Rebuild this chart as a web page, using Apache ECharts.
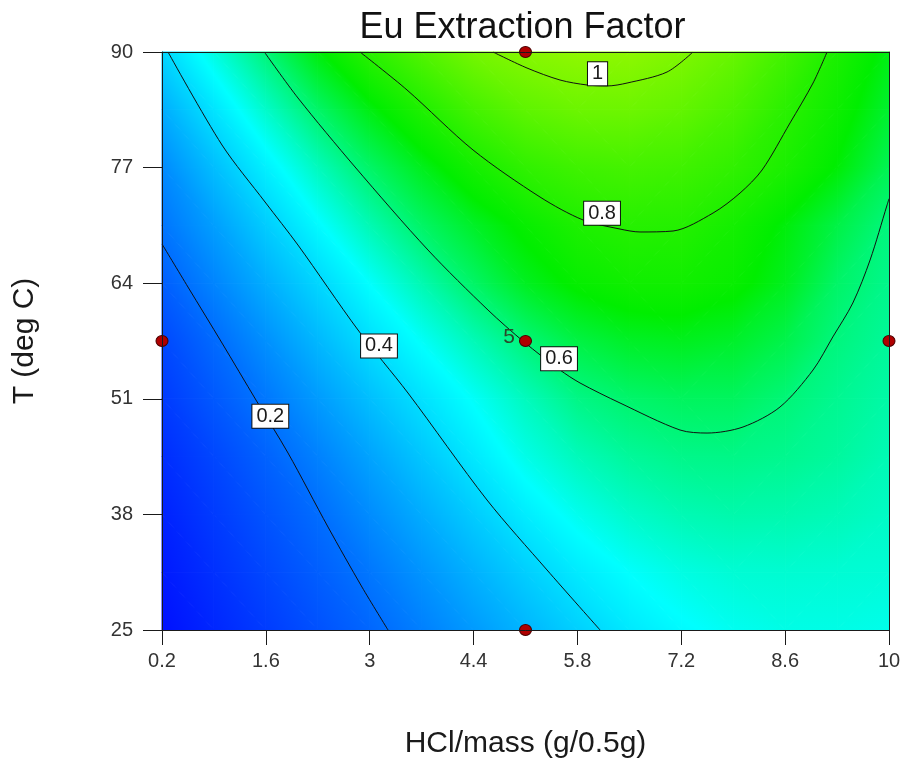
<!DOCTYPE html>
<html>
<head>
<meta charset="utf-8">
<title>Eu Extraction Factor</title>
<script src="https://cdn.jsdelivr.net/npm/echarts@6/dist/echarts.min.js"></script>
<style>
  html, body { margin: 0; padding: 0; background: #ffffff; }
  #chart { width: 901px; height: 761px; }
</style>
</head>
<body>
<div id="chart"></div>
<script>
// ---- Response surface grid: HCl/mass (g/0.5g) x temperature (deg C) ----
const hclNodes  = [0.2, 0.9, 1.6, 2.3, 3.0, 3.7, 4.4, 5.1, 5.8, 6.5, 7.2, 7.9, 8.6, 9.3, 10.0];
const tempNodes = [25, 31.5, 38, 44.5, 51, 57.5, 64, 70.5, 77, 83.5, 90];

// Eu extraction factor along each temperature row (one value per HCl node)
const euAt25   = [0.030, 0.069, 0.108, 0.147, 0.186, 0.232, 0.281, 0.330, 0.379, 0.424, 0.456, 0.478, 0.489, 0.489, 0.484];
const euAt31_5 = [0.045, 0.087, 0.129, 0.171, 0.216, 0.269, 0.323, 0.376, 0.427, 0.466, 0.492, 0.507, 0.510, 0.508, 0.505];
const euAt38   = [0.060, 0.106, 0.152, 0.197, 0.255, 0.313, 0.371, 0.431, 0.481, 0.517, 0.539, 0.548, 0.545, 0.536, 0.522];
const euAt44_5 = [0.080, 0.128, 0.178, 0.235, 0.297, 0.360, 0.423, 0.487, 0.533, 0.565, 0.582, 0.585, 0.577, 0.562, 0.538];
const euAt51   = [0.105, 0.160, 0.217, 0.282, 0.347, 0.410, 0.470, 0.530, 0.586, 0.613, 0.626, 0.626, 0.601, 0.575, 0.552];
const euAt57_5 = [0.130, 0.192, 0.262, 0.334, 0.405, 0.470, 0.536, 0.600, 0.652, 0.681, 0.690, 0.678, 0.645, 0.594, 0.566];
const euAt64   = [0.170, 0.241, 0.316, 0.390, 0.466, 0.542, 0.618, 0.687, 0.732, 0.756, 0.758, 0.737, 0.690, 0.617, 0.580];
const euAt70_5 = [0.213, 0.288, 0.372, 0.456, 0.540, 0.618, 0.680, 0.735, 0.785, 0.806, 0.801, 0.765, 0.710, 0.650, 0.594];
const euAt77   = [0.252, 0.345, 0.437, 0.530, 0.617, 0.691, 0.765, 0.828, 0.863, 0.875, 0.864, 0.830, 0.780, 0.715, 0.636];
const euAt83_5 = [0.315, 0.415, 0.517, 0.616, 0.702, 0.788, 0.874, 0.934, 0.965, 0.968, 0.943, 0.892, 0.815, 0.748, 0.672];
const euAt90   = [0.390, 0.495, 0.600, 0.709, 0.815, 0.905, 0.985, 1.025, 1.045, 1.040, 1.008, 0.955, 0.870, 0.780, 0.700];
const euRows = [euAt25, euAt31_5, euAt38, euAt44_5, euAt51, euAt57_5, euAt64, euAt70_5, euAt77, euAt83_5, euAt90];

// ---- Contour lines [HCl, T] ----
const contour02 = [[0.2, 68.41], [0.55, 63.57], [1.009, 57.27], [1.467, 50.86], [1.899, 44.90], [2.438, 36.58], [2.896, 29.83], [3.247, 25]];
const contour04 = [[0.281, 90], [1.009, 79.54], [1.589, 73.13], [2.033, 68.29], [2.842, 58.74], [3.516, 51.65], [4.581, 39.62], [5.390, 31.75], [6.105, 25]];
const contour06 = [[1.58, 90], [2.033, 84.83], [2.802, 77.07], [3.786, 67.73], [4.595, 60.98], [5.080, 57.39], [5.565, 54.24], [5.835, 52.78], [6.374, 50.53], [7.183, 47.49], [7.547, 47.15], [8.032, 47.83], [8.531, 50.08], [8.976, 54.24], [9.242, 57.95], [9.512, 61.77], [9.745, 66.61], [9.974, 72.79], [10, 73.5]];
const contour08 = [[2.869, 90], [3.503, 85.73], [4.393, 78.98], [5.296, 73.69], [5.876, 71.11], [6.374, 70.09], [6.644, 69.76], [7.089, 69.87], [7.628, 71.89], [7.992, 74.14], [8.289, 76.73], [8.666, 82.02], [8.976, 86.51], [9.165, 90]];
const contour10 = [[4.662, 90], [5.120, 88.20], [5.565, 86.85], [5.929, 86.29], [6.199, 86.18], [6.469, 86.51], [7.008, 87.75], [7.358, 90]];
const contourLines = [contour02, contour04, contour06, contour08, contour10];

// Contour level labels and where they sit on their lines
const contourLevels = ['0.2', '0.4', '0.6', '0.8', '1'];
const labelHcl  = [1.660, 3.125, 5.552, 6.132, 6.071];
const labelTemp = [49.04, 56.94, 55.51, 71.86, 87.55];

// ---- Design points ----
const designHcl  = [0.2, 5.1, 5.1, 10, 5.1];
const designTemp = [57.5, 90, 57.5, 57.5, 25];
const designRuns = [1, 1, 5, 1, 1];

// ---- Axis ticks ----
const hclTicks  = [0.2, 1.6, 3, 4.4, 5.8, 7.2, 8.6, 10];
const tempTicks = [25, 38, 51, 64, 77, 90];

// Colour ramp: value -> colour
const ramp = [[0, '#0000ff'], [0.464, '#00ffff'], [0.72, '#00ee00'], [1.3, '#ffff00']];

const FONT = '"Liberation Sans", Arial, Helvetica, sans-serif';

function hexToRgb(h) {
  return [parseInt(h.slice(1, 3), 16), parseInt(h.slice(3, 5), 16), parseInt(h.slice(5, 7), 16)];
}
function colorAt(v) {
  if (v <= ramp[0][0]) return ramp[0][1];
  for (let k = 1; k < ramp.length; k++) {
    if (v <= ramp[k][0]) {
      const t = (v - ramp[k - 1][0]) / (ramp[k][0] - ramp[k - 1][0]);
      const a = hexToRgb(ramp[k - 1][1]), b = hexToRgb(ramp[k][1]);
      const c = a.map((x, n) => Math.round(x + (b[n] - x) * t));
      return 'rgb(' + c.join(',') + ')';
    }
  }
  return ramp[ramp.length - 1][1];
}

// Linear gradient that paints a triangle with a plane through its three corner values
function triangleFill(p, v) {
  const dx1 = p[1][0] - p[0][0], dy1 = p[1][1] - p[0][1];
  const dx2 = p[2][0] - p[0][0], dy2 = p[2][1] - p[0][1];
  const dv1 = v[1] - v[0], dv2 = v[2] - v[0];
  const det = dx1 * dy2 - dx2 * dy1;
  if (Math.abs(det) < 1e-9) return colorAt(v[0]);
  const gx = (dv1 * dy2 - dv2 * dy1) / det;
  const gy = (dx1 * dv2 - dx2 * dv1) / det;
  const g2 = gx * gx + gy * gy;
  if (g2 < 1e-14) return colorAt((v[0] + v[1] + v[2]) / 3);
  const lo = ramp[0][0], hi = ramp[ramp.length - 1][0];
  return {
    type: 'linear',
    global: true,
    x: p[0][0] + (lo - v[0]) * gx / g2,
    y: p[0][1] + (lo - v[0]) * gy / g2,
    x2: p[0][0] + (hi - v[0]) * gx / g2,
    y2: p[0][1] + (hi - v[0]) * gy / g2,
    colorStops: ramp.map(s => ({ offset: (s[0] - lo) / (hi - lo), color: s[1] }))
  };
}

// One custom item per grid cell
const cells = [];
for (let j = 0; j < tempNodes.length - 1; j++) {
  for (let i = 0; i < hclNodes.length - 1; i++) {
    cells.push([hclNodes[i], tempNodes[j], i, j]);
  }
}

function renderCell(params, api) {
  const i = api.value(2), j = api.value(3);
  const corners = [[i, j], [i + 1, j], [i + 1, j + 1], [i, j + 1]];
  const pts = corners.map(c => api.coord([hclNodes[c[0]], tempNodes[c[1]]]));
  const vals = corners.map(c => euRows[c[1]][c[0]]);
  const tris = Math.abs(vals[0] - vals[2]) <= Math.abs(vals[1] - vals[3])
    ? [[0, 1, 2], [0, 2, 3]]
    : [[0, 1, 3], [1, 2, 3]];
  return {
    type: 'group',
    children: tris.map(t => {
      const tp = t.map(k => pts[k]);
      const tv = t.map(k => vals[k]);
      return {
        type: 'polygon',
        shape: { points: tp },
        style: { fill: triangleFill(tp, tv), stroke: triangleFill(tp, tv), lineWidth: 1 }
      };
    })
  };
}

const lineSeries = contourLines.map(pts => ({
  type: 'line',
  data: pts,
  showSymbol: false,
  symbol: 'none',
  smooth: 0.3,
  silent: true,
  z: 3,
  lineStyle: { color: '#111111', width: 1 }
}));

const labelData = contourLevels.map((txt, k) => [labelHcl[k], labelTemp[k], txt]);
const pointData = designHcl.map((x, k) => [x, designTemp[k], designRuns[k]]);

const chart = echarts.init(document.getElementById('chart'), null, { renderer: 'canvas' });
chart.setOption({
  animation: false,
  backgroundColor: '#ffffff',
  textStyle: { fontFamily: FONT },
  grid: { left: 162, top: 52, right: 12, bottom: 131, outerBoundsMode: 'none' },
  graphic: [{
    type: 'text',
    x: 522.5,
    y: 28,
    style: {
      text: 'Eu Extraction Factor',
      font: '36px ' + FONT,
      fill: '#111111',
      textAlign: 'center',
      textVerticalAlign: 'middle'
    }
  }],
  xAxis: [{
    type: 'value', min: 0.2, max: 10, position: 'bottom', z: 6,
    axisLine: { show: true, onZero: false, lineStyle: { color: '#1a1a1a', width: 1 } },
    axisTick: { show: true, length: 15, customValues: hclTicks, lineStyle: { color: '#1a1a1a', width: 1 } },
    axisLabel: { customValues: hclTicks, margin: 21, fontSize: 20, color: '#333333', fontFamily: FONT },
    splitLine: { show: false },
    name: 'HCl/mass (g/0.5g)', nameLocation: 'middle', nameGap: 99,
    nameTextStyle: { fontSize: 30, color: '#1a1a1a', fontFamily: FONT }
  }, {
    type: 'value', min: 0.2, max: 10, position: 'top', z: 6,
    axisLine: { show: true, onZero: false, lineStyle: { color: '#1a1a1a', width: 1 } },
    axisTick: { show: false }, axisLabel: { show: false }, splitLine: { show: false }
  }],
  yAxis: [{
    type: 'value', min: 25, max: 90, position: 'left', z: 6,
    axisLine: { show: true, onZero: false, lineStyle: { color: '#1a1a1a', width: 1 } },
    axisTick: { show: true, length: 19, customValues: tempTicks, lineStyle: { color: '#1a1a1a', width: 1 } },
    axisLabel: { customValues: tempTicks, margin: 29, fontSize: 20, color: '#333333', fontFamily: FONT },
    splitLine: { show: false },
    name: 'T (deg C)', nameLocation: 'middle', nameGap: 122,
    nameTextStyle: { fontSize: 30, color: '#1a1a1a', fontFamily: FONT }
  }, {
    type: 'value', min: 25, max: 90, position: 'right', z: 6,
    axisLine: { show: true, onZero: false, lineStyle: { color: '#1a1a1a', width: 1 } },
    axisTick: { show: false }, axisLabel: { show: false }, splitLine: { show: false }
  }],
  series: [{
    type: 'custom',
    silent: true,
    z: 1,
    encode: { x: 0, y: 1 },
    data: cells,
    renderItem: renderCell
  }].concat(lineSeries).concat([{
    type: 'scatter',
    silent: true,
    z: 4,
    symbolSize: 1,
    itemStyle: { color: 'rgba(0,0,0,0)', opacity: 1 },
    data: labelData,
    label: {
      show: true,
      position: 'inside',
      formatter: p => p.value[2],
      fontSize: 20,
      lineHeight: 20,
      color: '#1a1a1a',
      fontFamily: FONT,
      backgroundColor: '#ffffff',
      borderColor: '#111111',
      borderWidth: 1,
      padding: [2, 4, 1, 4]
    }
  }, {
    type: 'scatter',
    silent: true,
    clip: false,
    z: 5,
    symbol: 'circle',
    symbolSize: [12, 11],
    itemStyle: { color: '#b00000', borderColor: '#4a0000', borderWidth: 1, opacity: 1 },
    data: pointData,
    label: {
      show: true,
      position: 'left',
      distance: 4,
      offset: [0, -4],
      formatter: p => (p.value[2] > 1 ? String(p.value[2]) : ''),
      fontSize: 21,
      color: '#2a472a',
      fontFamily: FONT
    }
  }])
});
</script>
</body>
</html>
